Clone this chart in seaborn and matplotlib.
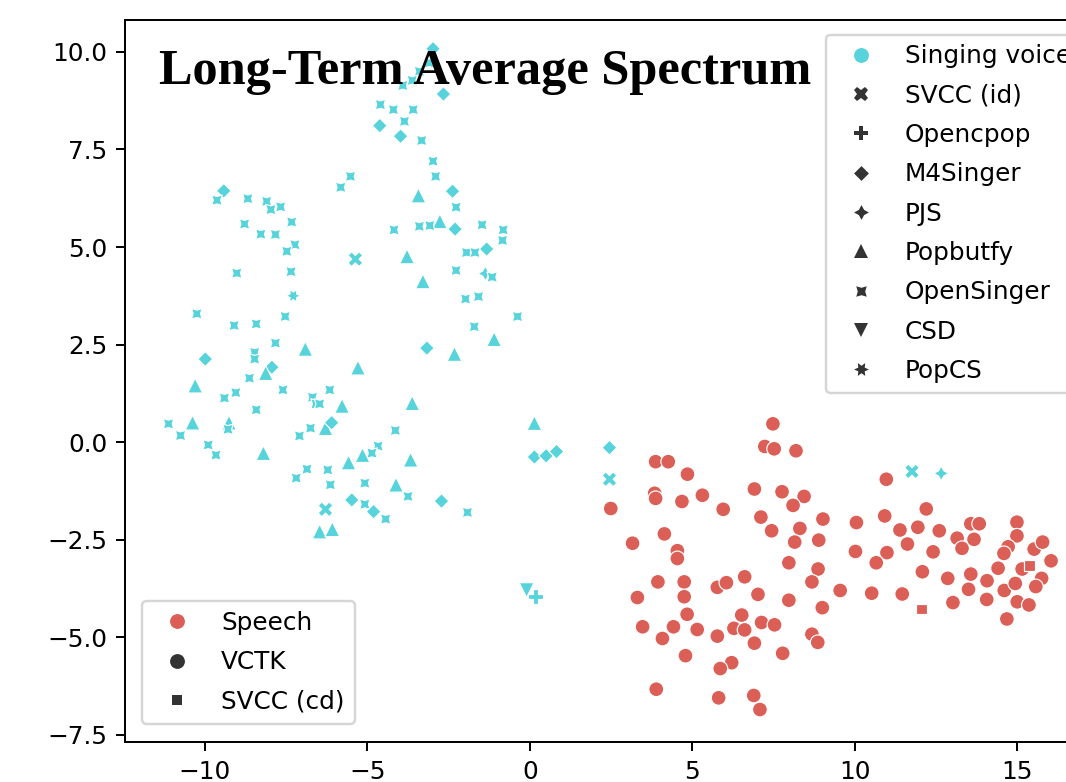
import pandas as pd
import matplotlib.pyplot as plt
import seaborn as sns

# t-SNE des spectres moyens (LTAS)
sing_x = [-2.98, -3.40, -3.10, -3.91, -3.62, -2.66, -4.60, -4.20, -3.59, -3.86,
          -4.62, -3.98, -3.33, -2.98, -2.90, -5.52, -5.82, -3.43, -2.38, -2.27,
          -2.77, -3.40, -3.08, -4.18, -2.30, -1.47, -0.82, -0.84, -1.33, -1.95,
          -1.69, -3.78, -5.37, -2.27, -1.37, -1.16, -3.29, -1.98, -1.58, -0.38,
          -1.71, -1.10, -3.17, -2.32,
          -9.42, -9.63, -8.68, -8.10, -7.97, -7.67, -8.78, -7.33, -8.28, -7.83,
          -7.23, -7.48, -9.02, -7.35, -7.28, -10.25, -9.10, -8.42, -7.53, -7.83,
          -6.91, -9.99, -8.47, -8.47, -7.94, -8.13, -5.29, -8.63, -10.30, -9.40,
          -9.05, -7.60, -6.69, -6.58, -6.47, -6.16, -5.78, -3.62, -8.42, -11.12,
          -10.38, -9.26, -9.29, -10.75, -9.90, -9.66, -8.20, -7.09, -6.75, -6.29,
          -6.10, -4.14, -4.67, -4.86, -5.15, -5.58, -3.67, -6.86, -7.19, -6.22,
          -6.14, -5.08, -4.12, -3.75, -5.48, -5.08, -4.81, -4.44, -2.72, -1.92,
          -6.29, -6.47, -6.08, 0.14, 0.14, 0.50, 0.82, 2.45, 2.45, -0.10,
          0.17, 11.76, 12.66]
sing_y = [10.08, 9.50, 9.72, 9.14, 9.27, 8.92, 8.65, 8.52, 8.52, 8.22,
          8.11, 7.84, 7.73, 7.20, 6.81, 6.81, 6.53, 6.32, 6.43, 6.02,
          5.66, 5.53, 5.55, 5.44, 5.46, 5.57, 5.44, 5.17, 4.95, 4.86,
          4.86, 4.76, 4.69, 4.40, 4.32, 4.23, 4.12, 3.67, 3.73, 3.22,
          2.96, 2.64, 2.41, 2.26,
          6.44, 6.20, 6.24, 6.17, 5.96, 6.03, 5.59, 5.64, 5.33, 5.32,
          5.06, 4.89, 4.33, 4.37, 3.75, 3.29, 2.99, 3.03, 3.22, 2.54,
          2.39, 2.13, 2.30, 2.13, 1.92, 1.77, 1.91, 1.64, 1.45, 1.13,
          1.27, 1.34, 1.15, 0.98, 0.98, 1.34, 0.93, 1.00, 0.83, 0.47,
          0.50, 0.50, 0.33, 0.17, -0.07, -0.33, -0.28, 0.16, 0.36, 0.36,
          0.50, 0.30, -0.10, -0.28, -0.33, -0.52, -0.45, -0.69, -0.92, -0.71,
          -1.09, -1.05, -1.09, -1.39, -1.48, -1.59, -1.78, -1.97, -1.51, -1.80,
          -1.72, -2.29, -2.23, 0.49, -0.38, -0.35, -0.24, -0.14, -0.95, -3.79,
          -3.96, -0.75, -0.80]
sing_set = (["M4Singer"] + ["OpenSinger"] * 4 + ["M4Singer"] + ["OpenSinger"] * 4
            + ["M4Singer", "M4Singer"] + ["OpenSinger"] * 5 + ["Popbutfy", "M4Singer", "OpenSinger"]
            + ["Popbutfy"] + ["OpenSinger"] * 3 + ["M4Singer"] + ["OpenSinger"] * 3
            + ["M4Singer"] + ["OpenSinger"] * 2 + ["Popbutfy", "SVCC (id)", "OpenSinger", "PJS",
               "OpenSinger", "Popbutfy"] + ["OpenSinger"] * 4 + ["Popbutfy", "M4Singer", "Popbutfy"]
            + ["M4Singer"] + ["OpenSinger"] * 13 + ["PopCS"] + ["OpenSinger"] * 5
            + ["Popbutfy", "M4Singer", "OpenSinger", "OpenSinger", "M4Singer", "Popbutfy",
               "Popbutfy", "OpenSinger", "Popbutfy"] + ["OpenSinger"] * 7
            + ["Popbutfy", "Popbutfy", "OpenSinger", "OpenSinger", "Popbutfy", "Popbutfy",
               "OpenSinger", "OpenSinger", "OpenSinger", "OpenSinger", "Popbutfy", "OpenSinger",
               "OpenSinger", "Popbutfy", "M4Singer", "OpenSinger", "OpenSinger", "OpenSinger",
               "Popbutfy", "Popbutfy", "Popbutfy", "OpenSinger", "OpenSinger", "OpenSinger",
               "OpenSinger", "OpenSinger", "Popbutfy", "OpenSinger", "M4Singer", "OpenSinger",
               "M4Singer", "OpenSinger", "M4Singer", "OpenSinger", "SVCC (id)", "Popbutfy",
               "Popbutfy", "Popbutfy", "M4Singer", "M4Singer", "M4Singer", "M4Singer",
               "SVCC (id)", "CSD", "Opencpop", "SVCC (id)", "PJS"])

speech_x = [7.48, 7.23, 7.52, 8.19, 3.87, 4.26, 4.85, 2.49, 3.84, 3.87,
            4.68, 5.31, 5.95, 6.91, 7.76, 8.44, 8.10, 7.11, 7.44, 8.31,
            9.02, 8.15, 8.89, 7.97, 8.87, 8.68, 9.55, 7.97, 9.00, 8.68,
            8.86, 7.78, 3.16, 4.14, 4.54, 4.54, 3.94, 4.75, 3.31, 4.75,
            5.77, 6.05, 6.61, 7.02, 4.84, 3.47, 4.42, 5.15, 4.08, 6.52,
            6.28, 6.61, 7.13, 7.53, 5.77, 6.91, 4.79, 6.21, 5.86, 3.89,
            5.81, 6.89, 7.08, 10.05, 10.92, 10.97, 10.02, 11.39, 11.94, 12.20,
            11.62, 10.99, 10.66, 12.60, 12.41, 12.08, 10.52, 11.46, 12.86, 13.02,
            13.15, 13.30, 13.57, 13.83, 13.67, 13.57, 13.50, 14.07, 14.06, 14.99,
            14.99, 14.72, 14.59, 14.41, 14.60, 14.94, 15.00, 15.36, 14.68, 15.52,
            15.78, 16.04, 15.15, 15.75, 15.57, 12.06, 15.38]
speech_y = [0.47, -0.11, -0.17, -0.22, -0.50, -0.50, -0.82, -1.70, -1.31, -1.44,
            -1.52, -1.36, -1.72, -1.20, -1.27, -1.39, -1.62, -1.92, -2.27, -2.21,
            -1.97, -2.56, -2.51, -3.09, -3.25, -3.58, -3.80, -4.05, -4.24, -4.92,
            -5.13, -5.41, -2.59, -2.35, -2.78, -2.98, -3.58, -3.58, -3.98, -3.96,
            -3.72, -3.60, -3.45, -3.90, -4.41, -4.73, -4.73, -4.80, -5.03, -4.43,
            -4.77, -4.81, -4.62, -4.68, -4.97, -5.15, -5.47, -5.65, -5.80, -6.33,
            -6.55, -6.49, -6.85, -2.06, -1.89, -0.95, -2.80, -2.25, -2.18, -1.71,
            -2.61, -2.83, -3.09, -2.27, -2.81, -3.32, -3.87, -3.89, -3.49, -4.11,
            -2.46, -2.72, -2.09, -2.09, -2.49, -3.38, -3.77, -3.55, -4.03, -2.05,
            -2.40, -2.68, -2.85, -3.23, -3.80, -3.62, -4.09, -4.17, -4.53, -2.74,
            -2.56, -3.04, -3.25, -3.49, -3.70, -4.28, -3.16]
speech_set = ["VCTK"] * 105 + ["SVCC (cd)"] * 2

sing_order = ["SVCC (id)", "Opencpop", "M4Singer", "PJS", "Popbutfy",
              "OpenSinger", "CSD", "PopCS"]
speech_order = ["VCTK", "SVCC (cd)"]

df_sing = pd.DataFrame({"x": sing_x, "y": sing_y, "dataset": sing_set,
                        "type": "Singing voice"})
df_speech = pd.DataFrame({"x": speech_x, "y": speech_y, "dataset": speech_set,
                          "type": "Speech"})

pal = sns.color_palette("hls", 2)
markers_sing = {"SVCC (id)": "X", "Opencpop": "P", "M4Singer": (4, 0, 0),
                "PJS": (4, 1, 0), "Popbutfy": "^", "OpenSinger": (4, 1, 45),
                "CSD": "v", "PopCS": (6, 1, 30)}
markers_speech = {"VCTK": "o", "SVCC (cd)": (4, 0, 45)}


def grab_legend(ax, keep, hue_label):
    # garde seulement les entrées voulues, dans l'ordre
    leg = ax.get_legend()
    found = {}
    for h, t in zip(leg.legend_handles, leg.get_texts()):
        lab = t.get_text()
        if lab in keep and lab not in found:
            found[lab] = h
    leg.remove()
    found[hue_label].set_marker("o")
    for h in found.values():
        h.set_markersize(6)
        h.set_markeredgewidth(0)
    return [found[k] for k in keep], keep


W, H, DPI = 1066, 782, 178
fig = plt.figure(figsize=(W / DPI, H / DPI), dpi=DPI)
ax = fig.add_axes([125 / W, 1 - 742.3 / H, (1092 - 125) / W, (742.3 - 19.5) / H])

sns.scatterplot(data=df_sing, x="x", y="y", hue="type", style="dataset",
                style_order=sing_order, markers=markers_sing,
                palette={"Singing voice": pal[1]}, ax=ax)
h1, l1 = grab_legend(ax, ["Singing voice"] + sing_order, "Singing voice")

sns.scatterplot(data=df_speech, x="x", y="y", hue="type", style="dataset",
                style_order=speech_order, markers=markers_speech,
                palette={"Speech": pal[0]}, ax=ax)
h2, l2 = grab_legend(ax, ["Speech"] + speech_order, "Speech")

ax.set_xlim(-12.46, 17.3)
ax.set_ylim(-7.69, 10.83)
ax.set_xlabel("")
ax.set_ylabel("")

leg1 = ax.legend(h1, l1, loc="upper left", bbox_to_anchor=(826 / W, 1 - 34.5 / H),
                 bbox_transform=fig.transFigure, borderaxespad=0, labelspacing=0.62)
ax.add_artist(leg1)
ax.legend(h2, l2, loc="lower left", bbox_to_anchor=(142 / W, 1 - 723.5 / H),
          bbox_transform=fig.transFigure, borderaxespad=0, labelspacing=0.62)

fig.text(159 / W, 1 - 84 / H, "Long-Term Average Spectrum", family="Liberation Serif",
         fontweight="bold", fontsize=20.4, va="baseline", ha="left")

fig.savefig("out.png", dpi=DPI)
